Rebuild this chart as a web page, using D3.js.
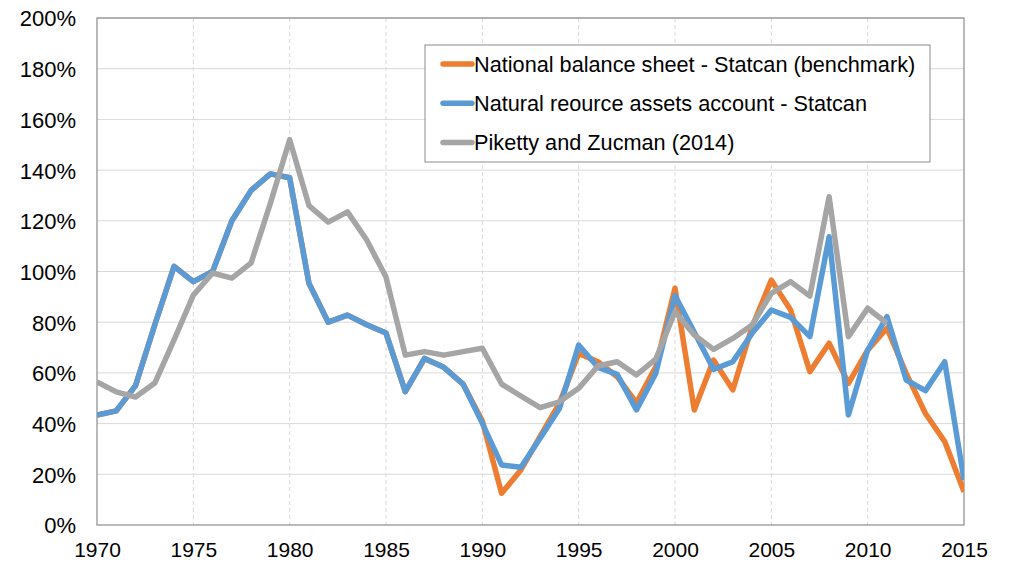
<!DOCTYPE html>
<html>
<head>
<meta charset="utf-8">
<script src="https://d3js.org/d3.v7.min.js"></script>
<style>
  body { margin: 0; background: #fff; }
  text { font-family: "Liberation Sans", Arial, sans-serif; fill: #000; }
</style>
</head>
<body>
<script>
var width = 1014;
var height = 565;

var years = [1970, 1971, 1972, 1973, 1974, 1975, 1976, 1977, 1978, 1979,
             1980, 1981, 1982, 1983, 1984, 1985, 1986, 1987, 1988, 1989,
             1990, 1991, 1992, 1993, 1994, 1995, 1996, 1997, 1998, 1999,
             2000, 2001, 2002, 2003, 2004, 2005, 2006, 2007, 2008, 2009,
             2010, 2011, 2012, 2013, 2014, 2015];

// National balance sheet - Statcan (benchmark), in %
var balanceSheet = [43.4, 45, 55, 79, 102, 96, 100, 120, 132, 138.5,
                    137, 95.4, 80, 82.8, 79, 75.7, 52.6, 65.7, 62.2, 55.6,
                    41, 12.5, 21.7, 35, 48, 67.7, 64.4, 58.5, 48.2, 62.4,
                    93.4, 45.4, 65.1, 53.3, 78.2, 96.6, 84.8, 60.5, 71.7, 55.9,
                    69, 77.6, 59.8, 44, 32.9, 13.1];

// Natural reource assets account - Statcan, in %
var resourceAccount = [43.4, 45, 55, 79, 102, 96, 100, 120, 132, 138.5,
                       137, 95.4, 80, 82.8, 79, 75.7, 52.6, 65.7, 62.2, 55.6,
                       40.1, 23.7, 22.8, 34.2, 46, 71, 62.2, 59.4, 45.4, 59.8,
                       90.5, 76, 61.4, 64.4, 75.6, 84.8, 81.9, 74.3, 113.7, 43.4,
                       69, 82.2, 57.2, 53, 64.4, 17.8];

// Piketty and Zucman (2014), 1970-2011, in %
var pikettyZucman = [56.4, 52.5, 50.5, 56, 73, 90.7, 99.4, 97.4, 103.4, 127,
                     152, 126, 119.5, 123.5, 112.4, 97.8, 67, 68.4, 67, 68.4,
                     69.7, 55.6, 50.9, 46.3, 48.6, 53.9, 62.7, 64.4, 59.2, 65.4,
                     84.1, 75, 69.3, 73.6, 78.9, 91.4, 96, 90.3, 129.5, 74.3,
                     85.5, 79.6];

var seriesNames = ["National balance sheet - Statcan (benchmark)",
                   "Natural reource assets account - Statcan",
                   "Piketty and Zucman (2014)"];
var seriesColors = ["#ED7D31", "#5B9BD5", "#A5A5A5"];

var yTicks = [0, 20, 40, 60, 80, 100, 120, 140, 160, 180, 200];
var xTicks = [1970, 1975, 1980, 1985, 1990, 1995, 2000, 2005, 2010, 2015];

var plotLeft = 97, plotRight = 964, plotTop = 18, plotBottom = 525;

var svg = d3.select("body")
    .append("svg")
    .attr("width", width)
    .attr("height", height);

var x = d3.scaleLinear().domain([1970, 2015]).range([plotLeft, plotRight]);
var y = d3.scaleLinear().domain([0, 200]).range([plotBottom, plotTop]);

// horizontal grid
svg.append("g")
    .selectAll("line")
    .data(yTicks.slice(1))
    .enter()
    .append("line")
    .attr("x1", plotLeft).attr("x2", plotRight)
    .attr("y1", function(d) { return y(d); })
    .attr("y2", function(d) { return y(d); })
    .attr("stroke", "#d9d9d9")
    .attr("stroke-width", 1);

// vertical dashed grid
svg.append("g")
    .selectAll("line")
    .data(xTicks.slice(1, -1))
    .enter()
    .append("line")
    .attr("x1", function(d) { return x(d); })
    .attr("x2", function(d) { return x(d); })
    .attr("y1", plotTop).attr("y2", plotBottom)
    .attr("stroke", "#d9d9d9")
    .attr("stroke-dasharray", "4,3")
    .attr("stroke-width", 1);

// plot border
svg.append("rect")
    .attr("x", plotLeft).attr("y", plotTop)
    .attr("width", plotRight - plotLeft).attr("height", plotBottom - plotTop)
    .attr("fill", "none")
    .attr("stroke", "#8c8c8c")
    .attr("stroke-width", 1.2);

// axes
var yAxis = d3.axisLeft(y)
    .tickValues(yTicks)
    .tickSize(0)
    .tickPadding(21)
    .tickFormat(function(d) { return d + "%"; });

svg.append("g")
    .attr("transform", "translate(" + plotLeft + ",0)")
    .call(yAxis)
    .call(function(g) { g.select(".domain").remove(); })
    .selectAll("text")
    .attr("dy", "0.36em")
    .style("font-size", "22px")
    .style("font-family", "'Liberation Sans', Arial, sans-serif");

var xAxis = d3.axisBottom(x)
    .tickValues(xTicks)
    .tickSize(0)
    .tickPadding(17)
    .tickFormat(d3.format("d"));

svg.append("g")
    .attr("transform", "translate(0," + plotBottom + ")")
    .call(xAxis)
    .call(function(g) { g.select(".domain").remove(); })
    .selectAll("text")
    .style("font-size", "21px")
    .style("font-family", "'Liberation Sans', Arial, sans-serif");

svg.append("clipPath")
    .attr("id", "plot-clip")
    .append("rect")
    .attr("x", plotLeft).attr("y", plotTop)
    .attr("width", plotRight - plotLeft).attr("height", plotBottom - plotTop);

var line = d3.line()
    .x(function(d) { return x(d[0]); })
    .y(function(d) { return y(d[1]); });

var allSeries = [balanceSheet, resourceAccount, pikettyZucman];

svg.append("g")
    .attr("clip-path", "url(#plot-clip)")
    .selectAll("path")
    .data(allSeries)
    .enter()
    .append("path")
    .attr("d", function(vals) {
        return line(vals.map(function(v, i) { return [years[i], v]; }));
    })
    .attr("fill", "none")
    .attr("stroke", function(d, i) { return seriesColors[i]; })
    .attr("stroke-width", 5.5)
    .attr("stroke-linejoin", "round");

// legend
var legend = svg.append("g");

legend.append("rect")
    .attr("x", 425).attr("y", 45)
    .attr("width", 505).attr("height", 117)
    .attr("fill", "#fff")
    .attr("stroke", "#8c8c8c")
    .attr("stroke-width", 1);

var rows = legend.selectAll(".row")
    .data(seriesNames)
    .enter()
    .append("g")
    .attr("class", "row")
    .attr("transform", function(d, i) { return "translate(0," + (64 + i * 39.3) + ")"; });

rows.append("line")
    .attr("x1", 443).attr("x2", 472)
    .attr("stroke", function(d, i) { return seriesColors[i]; })
    .attr("stroke-width", 5.5)
    .attr("stroke-linecap", "round");

rows.append("text")
    .attr("x", 474)
    .attr("dy", "0.36em")
    .style("font-size", "21.7px")
    .text(function(d) { return d; });
</script>
</body>
</html>
